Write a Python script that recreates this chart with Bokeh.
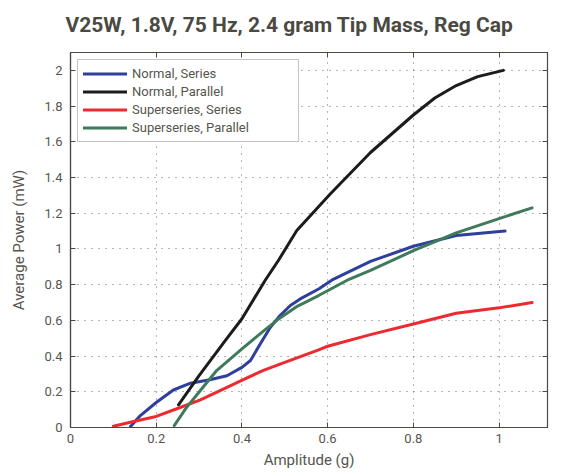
from bokeh.plotting import figure
from bokeh.models import LinearAxis, FixedTicker, Range1d, Legend, LegendItem, CustomLabelingPolicy
from bokeh.embed import file_html
from bokeh.resources import INLINE

# ---- data ----
normal_series_x = [0.14, 0.163, 0.2, 0.24, 0.28, 0.325, 0.365, 0.40, 0.42, 0.443, 0.466, 0.489, 0.513, 0.536, 0.58, 0.613, 0.70, 0.80, 0.90, 1.014]
normal_series_y = [0.005, 0.067, 0.14, 0.21, 0.248, 0.267, 0.29, 0.337, 0.375, 0.469, 0.56, 0.627, 0.683, 0.72, 0.777, 0.83, 0.93, 1.015, 1.075, 1.10]

normal_parallel_x = [0.252, 0.30, 0.361, 0.40, 0.454, 0.485, 0.528, 0.606, 0.70, 0.80, 0.85, 0.90, 0.95, 1.01]
normal_parallel_y = [0.127, 0.29, 0.487, 0.609, 0.823, 0.935, 1.103, 1.308, 1.54, 1.75, 1.845, 1.915, 1.965, 2.0]

super_series_x = [0.10, 0.147, 0.2, 0.248, 0.303, 0.349, 0.402, 0.45, 0.5, 0.579, 0.6, 0.7, 0.8, 0.9, 1.0, 1.077]
super_series_y = [0.007, 0.034, 0.062, 0.105, 0.155, 0.207, 0.267, 0.32, 0.365, 0.435, 0.455, 0.52, 0.58, 0.64, 0.67, 0.70]

super_parallel_x = [0.242, 0.27, 0.303, 0.341, 0.40, 0.45, 0.483, 0.53, 0.579, 0.65, 0.70, 0.80, 0.90, 1.0, 1.077]
super_parallel_y = [0.011, 0.11, 0.207, 0.319, 0.44, 0.54, 0.603, 0.68, 0.739, 0.83, 0.88, 0.99, 1.09, 1.17, 1.23]

series_names = ["Normal, Series", "Normal, Parallel", "Superseries, Series", "Superseries, Parallel"]
series_colors = ["#2e3f9c", "#1c1c1c", "#ec2a30", "#3f7b5b"]

x_ticks = [0, 0.2, 0.4, 0.6, 0.8, 1.0]
x_tick_labels = ["0", "0.2", "0.4", "0.6", "0.8", "1"]
y_ticks = [0, 0.2, 0.4, 0.6, 0.8, 1.0, 1.2, 1.4, 1.6, 1.8, 2.0]
y_tick_labels = ["0", "0.2", "0.4", "0.6", "0.8", "1", "1.2", "1.4", "1.6", "1.8", "2"]

FONT = "Roboto"
TXT = "#56564e"
AX = "#4a4a42"

p = figure(output_backend="svg", toolbar_location=None,
           frame_width=477, frame_height=375,
           x_range=Range1d(0, 1.113), y_range=Range1d(0, 2.1),
           min_border_left=70, min_border_right=8, min_border_top=52, min_border_bottom=10,
           x_axis_label="Amplitude (g)", y_axis_label="Average Power (mW)")

p.title.text = "V25W, 1.8V, 75 Hz, 2.4 gram Tip Mass, Reg Cap"
p.title.text_font = FONT
p.title.text_font_size = "21px"
p.title.text_font_style = "bold"
p.title.text_color = "#4a4a42"
p.title.align = "left"
p.title.offset = -5
p.title.standoff = 9

p.outline_line_color = AX
p.outline_line_width = 1.2
p.background_fill_color = "white"
p.border_fill_color = "white"

for ax, ticks, labels in ((p.xaxis[0], x_ticks, x_tick_labels), (p.yaxis[0], y_ticks, y_tick_labels)):
    ax.ticker = FixedTicker(ticks=ticks)
    ax.major_label_overrides = {t: l for t, l in zip(ticks, labels)}
    ax.minor_tick_line_color = None
    ax.major_tick_in = 5
    ax.major_tick_out = 0
    ax.major_tick_line_color = AX
    ax.axis_line_color = AX
    ax.axis_line_width = 1.2
    ax.major_label_text_font = FONT
    ax.major_label_text_font_size = "13px"
    ax.major_label_text_color = TXT
    ax.axis_label_text_font = FONT
    ax.axis_label_text_font_size = "15px"
    ax.axis_label_text_font_style = "normal"
    ax.axis_label_text_color = TXT

p.xaxis[0].major_label_standoff = 6
p.xaxis[0].axis_label_standoff = 5
p.yaxis[0].major_label_standoff = 8
p.yaxis[0].axis_label_standoff = 13

# top / right tick-only axes (no labels)
no_labels = "return new indices.constructor(indices.size)"
top = LinearAxis(ticker=FixedTicker(ticks=x_ticks),
                 major_label_policy=CustomLabelingPolicy(code=no_labels),
                 major_label_standoff=0, major_tick_in=5, major_tick_out=0,
                 minor_tick_line_color=None, axis_line_color=AX, major_tick_line_color=AX)
right = LinearAxis(ticker=FixedTicker(ticks=y_ticks),
                   major_label_policy=CustomLabelingPolicy(code=no_labels),
                   major_label_standoff=0, major_tick_in=5, major_tick_out=0,
                   minor_tick_line_color=None, axis_line_color=AX, major_tick_line_color=AX)
p.add_layout(top, "above")
p.add_layout(right, "right")

p.xgrid.ticker = FixedTicker(ticks=x_ticks)
p.ygrid.ticker = FixedTicker(ticks=y_ticks)
for g in (p.xgrid[0], p.ygrid[0]):
    g.grid_line_color = "#6a6a6a"
    g.grid_line_dash = "1 6"
    g.grid_line_width = 1

data = [(normal_series_x, normal_series_y), (normal_parallel_x, normal_parallel_y),
        (super_series_x, super_series_y), (super_parallel_x, super_parallel_y)]
items = []
for (xs, ys), name, col in zip(data, series_names, series_colors):
    r = p.line(xs, ys, line_color=col, line_width=3, line_join="round", line_cap="round")
    items.append(LegendItem(label=name, renderers=[r]))

legend = Legend(items=items, location="top_left")
legend.label_text_font = FONT
legend.label_text_font_size = "13px"
legend.label_text_color = TXT
legend.border_line_color = "#8a8a8a"
legend.border_line_width = 1
legend.margin = 7
legend.padding = 5
legend.spacing = 1
legend.label_height = 17
legend.glyph_height = 17
legend.glyph_width = 44
legend.label_standoff = 5
legend.label_width = 161
legend.background_fill_alpha = 1
p.add_layout(legend)

open("out.html", "w").write(file_html(p, INLINE))
